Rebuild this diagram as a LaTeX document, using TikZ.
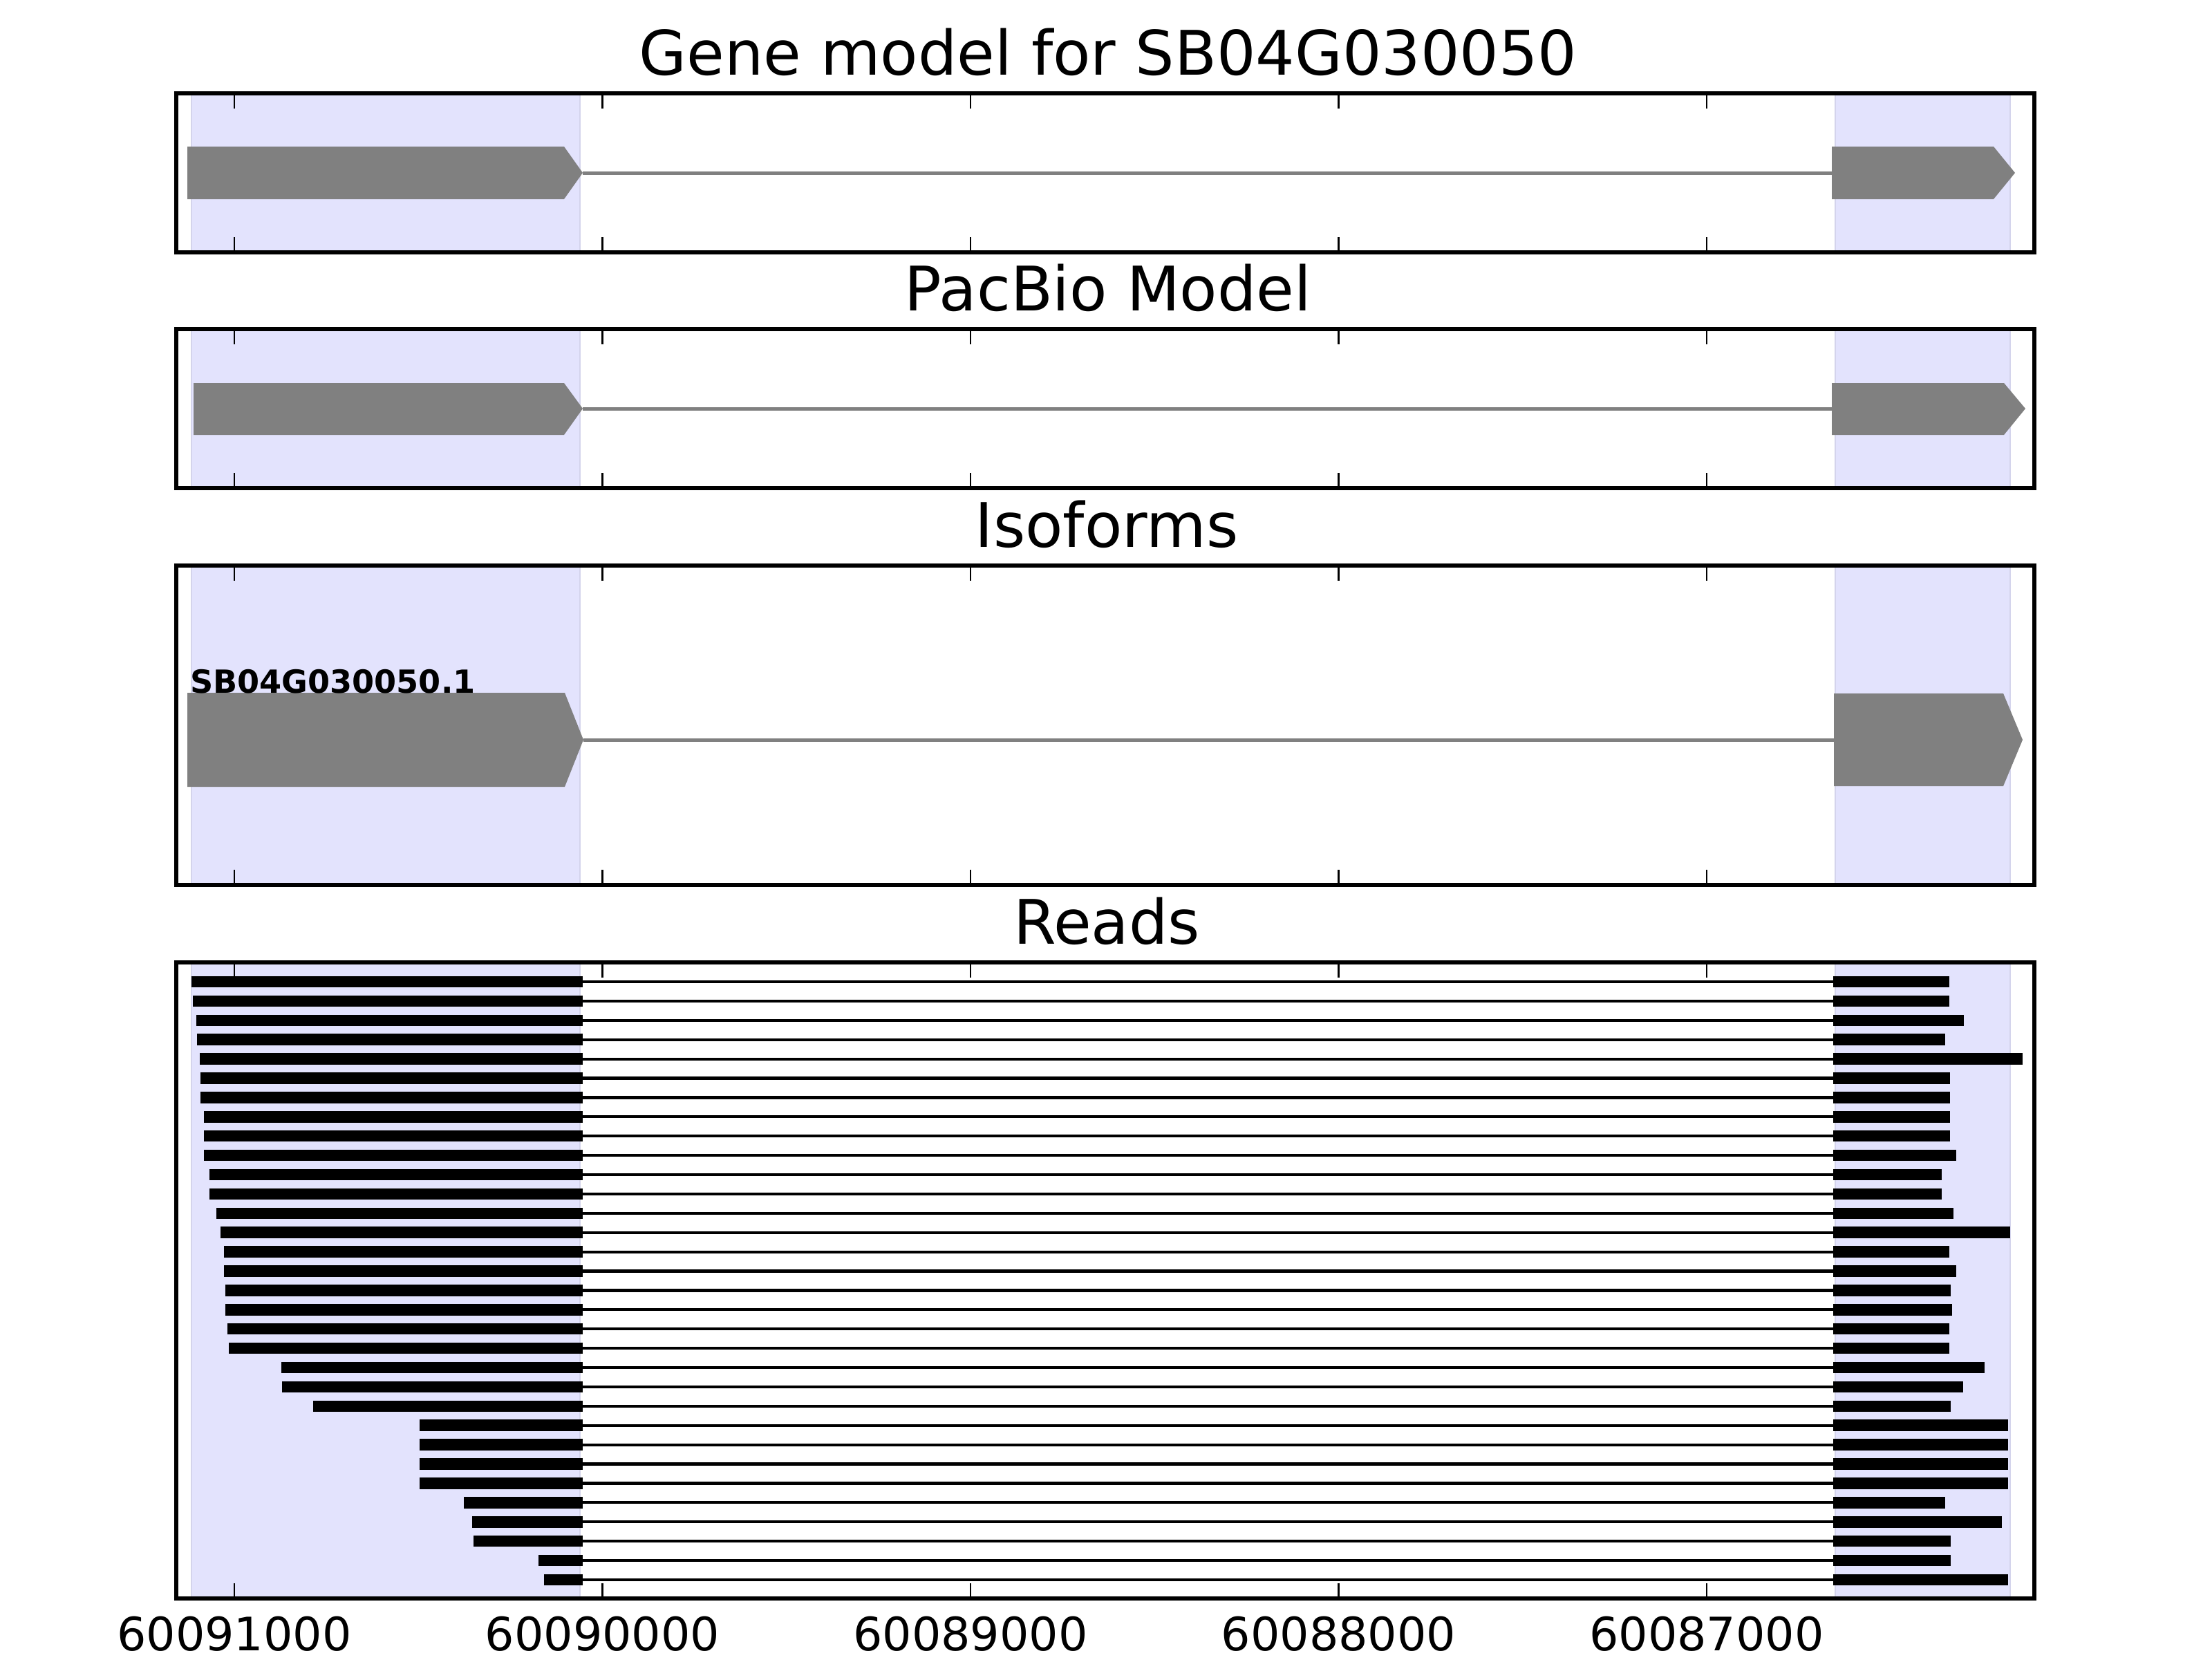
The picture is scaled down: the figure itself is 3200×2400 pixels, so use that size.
\documentclass[tikz,border=0pt]{standalone}
\usepackage{fontspec}
\setmainfont{DejaVu Sans}
\definecolor{spanfill}{RGB}{227,227,253}
\definecolor{spanedge}{RGB}{212,212,236}
\definecolor{exongray}{RGB}{128,128,128}
\tikzset{
  frame/.style={line width=1pt, black},
  tickmark/.style={line width=0.5pt, black},
  exon/.style={fill=exongray, draw=none},
  intron/.style={draw=exongray, line width=0.9pt},
  readbar/.style={fill=black, draw=none},
  readline/.style={draw=black, line width=0.75pt},
  paneltitle/.style={anchor=base, inner sep=0pt, font=\fontsize{16}{19}\selectfont},
  ticklab/.style={anchor=base, inner sep=0pt, font=\fontsize{12}{14}\selectfont},
  isolab/.style={anchor=base west, inner sep=0pt, font=\bfseries\fontsize{8.3}{10}\selectfont}
}
\begin{document}
\begin{tikzpicture}[x=0.18pt, y=-0.18pt]
\useasboundingbox (0,0) rectangle (3200,2400);
\fill[white] (0,0) rectangle (3200,2400);

% shaded exon spans in every panel
\foreach \t/\b in {135/365, 476/706, 818/1280, 1392/2312} {
  \fill[spanfill] (277,\t) rectangle (839,\b);
  \fill[spanfill] (2655,\t) rectangle (2908,\b);
  \draw[spanedge, line width=0.4pt] (277,\t) -- (277,\b) (839,\t) -- (839,\b)
        (2655,\t) -- (2655,\b) (2908,\t) -- (2908,\b);
}

% Gene model
\draw[intron] (843,250) -- (2650,250);
\fill[exon] (271,212) -- (816,212) -- (843,250) -- (816,288) -- (271,288) -- cycle;
\fill[exon] (2650,212) -- (2884,212) -- (2915,250) -- (2884,288) -- (2650,288) -- cycle;

% PacBio model
\draw[intron] (843,591) -- (2650,591);
\fill[exon] (280,554) -- (816,554) -- (843,591) -- (816,629) -- (280,629) -- cycle;
\fill[exon] (2650,554) -- (2899,554) -- (2930,591) -- (2899,629) -- (2650,629) -- cycle;

% Isoforms
\draw[intron] (844,1070) -- (2653,1070);
\fill[exon] (271,1002) -- (817,1002) -- (844,1070) -- (817,1138) -- (271,1138) -- cycle;
\fill[exon] (2653,1003) -- (2898,1003) -- (2926,1070) -- (2898,1137) -- (2653,1137) -- cycle;
\node[isolab] (isoname) at (274,1002) {SB04G030050.1};

% Reads
\foreach \i/\l/\r in {1/277/2820, 2/279/2820, 3/284/2841, 4/285/2814, 5/289/2926,
    6/290/2821, 7/290/2821, 8/295/2821, 9/295/2821, 10/295/2830,
    11/303/2809, 12/303/2809, 13/313/2826, 14/319/2908, 15/324/2820,
    16/324/2830, 17/326/2822, 18/326/2824, 19/329/2820, 20/331/2820,
    21/407/2871, 22/408/2840, 23/453/2822, 24/607/2905, 25/607/2905,
    26/607/2905, 27/607/2905, 28/671/2814, 29/683/2896, 30/685/2822,
    31/779/2822, 32/787/2905} {
  \pgfmathsetmacro\yc{1420+(\i-1)*27.9}
  \pgfmathsetmacro\ya{\yc-8.25}
  \pgfmathsetmacro\yb{\yc+8.25}
  \draw[readline] (843,\yc) -- (2652,\yc);
  \fill[readbar] (\l,\ya) rectangle (843,\yb);
  \fill[readbar] (2652,\ya) rectangle (\r,\yb);
}

% ticks and frames
\foreach \t/\b in {135/365, 476/706, 818/1280, 1392/2312} {
  \foreach \x in {339,871.5,1404,1936.5,2469} {
    \draw[tickmark] (\x,\t) -- ++(0,22);
    \draw[tickmark] (\x,\b) -- ++(0,-22);
  }
  \draw[frame] (255,\t) rectangle (2943,\b);
}

% titles
\node[paneltitle] (title1) at (1603,108) {Gene model for SB04G030050};
\node[paneltitle] (title2) at (1603,449) {PacBio Model};
\node[paneltitle] (title3) at (1601,791) {Isoforms};
\node[paneltitle] (title4) at (1601,1365) {Reads};

% tick labels
\node[ticklab] (tl1) at (339,2387) {60091000};
\node[ticklab] (tl2) at (871.5,2387) {60090000};
\node[ticklab] (tl3) at (1404,2387) {60089000};
\node[ticklab] (tl4) at (1936.5,2387) {60088000};
\node[ticklab] (tl5) at (2469,2387) {60087000};
\end{tikzpicture}
\end{document}
